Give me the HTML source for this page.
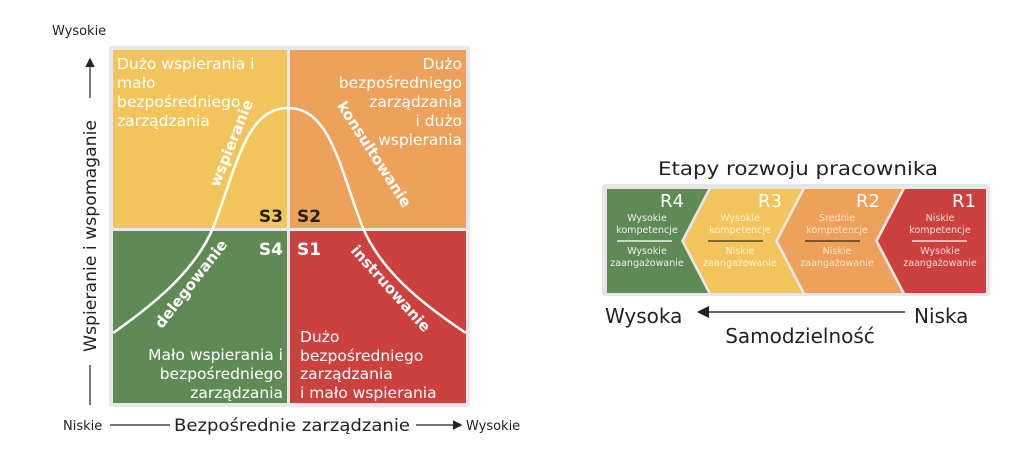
<!DOCTYPE html>
<html><head><meta charset="utf-8"><style>html,body{margin:0;padding:0;background:#fff}svg{display:block}text{font-family:"DejaVu Sans","Liberation Sans",sans-serif}</style></head><body>
<svg width="1024" height="463" viewBox="0 0 1024 463" xmlns="http://www.w3.org/2000/svg">
<defs><marker id="ah" markerWidth="8" markerHeight="8" refX="6" refY="4" orient="auto"><path d="M0,0 L8,4 L0,8 z" fill="#222"/></marker></defs>
<rect x="109" y="46" width="361" height="361" fill="#e8e8e8" rx="3"/>
<rect x="113" y="50" width="174" height="178" fill="#f2c55c"/>
<rect x="290" y="50" width="176" height="178" fill="#eda15a"/>
<rect x="113" y="231" width="174" height="172" fill="#5f8a55"/>
<rect x="290" y="231" width="176" height="172" fill="#cc403e"/>
<path d="M113,333 C160,300 196,268 213,228 C236,170 245,108 288,108 C331,108 340,170 363,228 C380,268 416,300 466,333" fill="none" stroke="#fff" stroke-width="2.5"/>
<g fill="#fff" font-size="15.5">
<text x="117" y="69">Dużo wspierania i</text><text x="117" y="88">mało</text><text x="117" y="107">bezpośredniego</text><text x="117" y="126">zarządzania</text>
<g text-anchor="end"><text x="462" y="69">Dużo</text><text x="462" y="88">bezpośredniego</text><text x="462" y="107">zarządzania</text><text x="462" y="126">i dużo</text><text x="462" y="145">wspierania</text>
<text x="283" y="360">Mało wspierania i</text><text x="283" y="379">bezpośredniego</text><text x="283" y="398">zarządzania</text></g>
<text x="300" y="342">Dużo</text><text x="300" y="361">bezpośredniego</text><text x="300" y="379">zarządzania</text><text x="300" y="398">i mało wspierania</text>
</g>
<g font-weight="bold" font-size="15" fill="#fff">
<text transform="translate(236,145) rotate(-68)" text-anchor="middle">wspieranie</text>
<text transform="translate(370,157) rotate(57)" text-anchor="middle">konsultowanie</text>
<text transform="translate(195,287) rotate(-52)" text-anchor="middle">delegowanie</text>
<text transform="translate(387,292) rotate(48)" text-anchor="middle">instruowanie</text>
</g>
<g font-weight="bold" font-size="17">
<text x="283" y="222" text-anchor="end" fill="#222">S3</text>
<text x="297" y="222" fill="#222">S2</text>
<text x="283" y="255" text-anchor="end" fill="#fff">S4</text>
<text x="297" y="255" fill="#fff">S1</text>
</g>
<text x="52" y="35" font-size="13" fill="#222">Wysokie</text>
<line x1="90" y1="98" x2="90" y2="60" stroke="#222" stroke-width="1.2" marker-end="url(#ah)"/>
<line x1="90" y1="365" x2="90" y2="405" stroke="#222" stroke-width="1.2"/>
<text transform="translate(96,236) rotate(-90)" text-anchor="middle" font-size="17" fill="#222" textLength="232" lengthAdjust="spacingAndGlyphs">Wspieranie i wspomaganie</text>
<text x="63" y="430" font-size="13" fill="#222">Niskie</text>
<line x1="110" y1="425" x2="170" y2="425" stroke="#222" stroke-width="1.2"/>
<text x="174" y="431" font-size="17" fill="#222" textLength="236" lengthAdjust="spacingAndGlyphs">Bezpośrednie zarządzanie</text>
<line x1="416" y1="425" x2="460" y2="425" stroke="#222" stroke-width="1.2" marker-end="url(#ah)"/>
<text x="466" y="430" font-size="13" fill="#222">Wysokie</text>
<text x="798" y="175" text-anchor="middle" font-size="19" fill="#222" textLength="280" lengthAdjust="spacingAndGlyphs">Etapy rozwoju pracownika</text>
<rect x="602" y="184" width="388" height="112" fill="#e6e6e6" rx="3"/>
<polygon points="607,189 708,189 681,241 708,293 607,293" fill="#5f8a55"/>
<polygon points="711,189 802,189 775,241 802,293 711,293 684,241" fill="#f2c55c"/>
<polygon points="805,189 902,189 875,241 902,293 805,293 778,241" fill="#eda15a"/>
<polygon points="905,189 986,189 986,293 905,293 878,241" fill="#cc403e"/>
<g font-size="18" fill="#fff" text-anchor="end"><text x="684" y="207">R4</text><text x="782" y="207">R3</text><text x="880" y="207">R2</text><text x="976" y="207">R1</text></g>
<g font-size="9.5" text-anchor="middle">
<g fill="#eee"><text x="647" y="221">Wysokie</text><text x="647" y="233">kompetencje</text><text x="647" y="254">Wysokie</text><text x="647" y="266">zaangażowanie</text></g>
<line x1="617" y1="241" x2="672" y2="241" stroke="#eee" stroke-width="1.5"/>
<g fill="#fff3d0"><text x="740" y="221">Wysokie</text><text x="740" y="233">kompetencje</text><text x="740" y="254">Niskie</text><text x="740" y="266">zaangażowanie</text></g>
<line x1="708" y1="241" x2="763" y2="241" stroke="#5a4a20" stroke-width="1.5"/>
<g fill="#fde5cc"><text x="837" y="221">Średnie</text><text x="837" y="233">kompetencje</text><text x="837" y="254">Niskie</text><text x="837" y="266">zaangażowanie</text></g>
<line x1="805" y1="241" x2="860" y2="241" stroke="#5a3a20" stroke-width="1.5"/>
<g fill="#fbdcdc"><text x="940" y="221">Niskie</text><text x="940" y="233">kompetencje</text><text x="940" y="254">Wysokie</text><text x="940" y="266">zaangażowanie</text></g>
<line x1="912" y1="241" x2="967" y2="241" stroke="#fbdcdc" stroke-width="1.5"/>
</g>
<text x="605" y="323" font-size="20" fill="#222">Wysoka</text>
<line x1="905" y1="312" x2="700" y2="312" stroke="#333" stroke-width="1.5" marker-end="url(#ah)"/>
<text x="914" y="323" font-size="20" fill="#222">Niska</text>
<text x="800" y="343" text-anchor="middle" font-size="20" fill="#222">Samodzielność</text>
</svg>
</body></html>
